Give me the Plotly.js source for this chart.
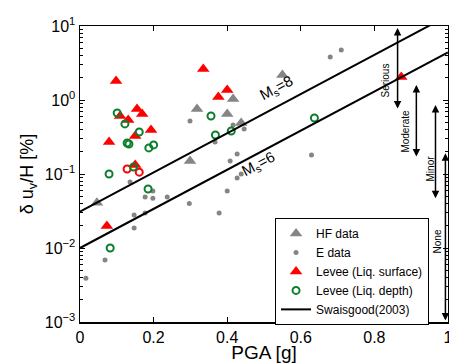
<!DOCTYPE html>
<html>
<head>
<meta charset="utf-8">
<script src="https://cdn.plot.ly/plotly-3.0.1.min.js"></script>
<style>html,body{margin:0;padding:0;background:#fff;}#chart{width:449px;height:363px;}</style>
</head>
<body>
<div id="chart"></div>
<script>
// HF data (gray triangles)
var hfX = [0.046, 0.299, 0.318, 0.400, 0.416, 0.438, 0.550];
var hfY = [0.041, 0.150, 0.755, 0.647, 1.03, 0.489, 2.18];
// E data (gray dots)
var eX = [0.016, 0.068, 0.147, 0.147, 0.136, 0.177, 0.177, 0.198, 0.198, 0.237, 0.297, 0.378, 0.400, 0.427, 0.438, 0.408, 0.427, 0.629, 0.299, 0.367, 0.416, 0.446, 0.680, 0.710];
var eY = [0.0039, 0.0069, 0.0186, 0.028, 0.078, 0.049, 0.0297, 0.059, 0.047, 0.049, 0.040, 0.0297, 0.059, 0.088, 0.10, 0.15, 0.186, 0.181, 0.52, 0.27, 0.459, 0.406, 3.81, 4.74];
// Levee (Liq. surface) red triangles
var levSX = [0.098, 0.155, 0.169, 0.109, 0.131, 0.193, 0.150, 0.079, 0.150, 0.073, 0.335, 0.400, 0.376, 0.873];
var levSY = [1.81, 0.755, 0.647, 0.608, 0.537, 0.393, 0.327, 0.270, 0.132, 0.0198, 2.62, 1.36, 1.10, 2.05];
// red open circles
var levRcX = [0.128, 0.161];
var levRcY = [0.117, 0.106];
// Levee (Liq. depth) green circles
var levDX = [0.101, 0.122, 0.128, 0.133, 0.161, 0.187, 0.200, 0.079, 0.145, 0.356, 0.368, 0.411, 0.637, 0.185, 0.082];
var levDY = [0.667, 0.475, 0.262, 0.254, 0.370, 0.225, 0.247, 0.100, 0.124, 0.608, 0.336, 0.381, 0.571, 0.0627, 0.0100];
// Swaisgood (2003) lines
var lineX = [0, 1];
var ms8Y = [0.031, 13.8];
var ms6Y = [0.010, 4.4];
// damage bands (arrows)
var bandNames = ['Serious', 'Moderate', 'Minor', 'None'];
var bandX = [0.863, 0.914, 0.966, 0.993];
var bandTop = [9.4, 1.6, 0.855, 0.19];
var bandBottom = [0.73, 0.164, 0.045, 0.001];
var bandLabelX = [0.830, 0.882, 0.952, 0.971];
var bandLabelY = [1.86, 0.381, 0.120, 0.0124];
// tick labels
var xTickVals = [0, 0.2, 0.4, 0.6, 0.8, 1];
var xTickText = ['0', '0.2', '0.4', '0.6', '0.8', '1'];
var yTickVals = [0.001, 0.01, 0.1, 1, 10];
var yTickText = ['10<sup>\u22123</sup>', '10<sup>\u22122</sup>', '10<sup>\u22121</sup>', '10<sup>0</sup>', '10<sup>1</sup>'];

var FONT = 'Liberation Sans, Arial, Helvetica, sans-serif';
var GRAY = '#858585';

var minorVals = [];
for (var e = -3; e < 1; e++) { for (var m = 2; m <= 9; m++) { minorVals.push(m * Math.pow(10, e)); } }

var traces = [
  {x: hfX, y: hfY, type: 'scatter', mode: 'markers', name: 'HF data',
   marker: {symbol: 'triangle-up', size: 11, color: GRAY}},
  {x: eX, y: eY, type: 'scatter', mode: 'markers', name: 'E data',
   marker: {symbol: 'circle', size: 5, color: GRAY}},
  {x: levSX, y: levSY, type: 'scatter', mode: 'markers', name: 'Levee (Liq. surface)',
   marker: {symbol: 'triangle-up', size: 11, color: '#ff0000'}},
  {x: levRcX, y: levRcY, type: 'scatter', mode: 'markers', showlegend: false,
   marker: {symbol: 'circle-open', size: 7, color: '#ff0000', line: {width: 2, color: '#ff0000'}}},
  {x: levDX, y: levDY, type: 'scatter', mode: 'markers', name: 'Levee (Liq. depth)',
   marker: {symbol: 'circle-open', size: 7, color: '#0a7f2e', line: {width: 2, color: '#0a7f2e'}}},
  {x: lineX, y: ms8Y, type: 'scatter', mode: 'lines', name: 'Swaisgood(2003)',
   line: {color: '#000', width: 2}},
  {x: lineX, y: ms6Y, type: 'scatter', mode: 'lines', showlegend: false,
   line: {color: '#000', width: 2}}
];

var ann = [
  {x: 0.533, y: Math.log10(1.45), xref: 'x', yref: 'y', text: 'M<sub>s</sub>=8', showarrow: false,
   textangle: -28, font: {family: FONT, size: 15, color: '#000'}},
  {x: 0.484, y: Math.log10(0.136), xref: 'x', yref: 'y', text: 'M<sub>s</sub>=6', showarrow: false,
   textangle: -28, font: {family: FONT, size: 15, color: '#000'}}
];
for (var i = 0; i < bandNames.length; i++) {
  ann.push({x: bandX[i], y: Math.log10(bandTop[i]), ax: bandX[i], ay: Math.log10(bandBottom[i]),
    xref: 'x', yref: 'y', axref: 'x', ayref: 'y', text: '', showarrow: true,
    arrowside: 'end+start', arrowhead: 2, arrowsize: 1, arrowwidth: 1.5, arrowcolor: '#000'});
  ann.push({x: bandLabelX[i], y: Math.log10(bandLabelY[i]), xref: 'x', yref: 'y', text: bandNames[i],
    showarrow: false, textangle: -90, font: {family: FONT, size: 10, color: '#000'}});
}

var layout = {
  width: 449, height: 363,
  margin: {l: 80, r: 1, t: 26, b: 41, pad: 0},
  paper_bgcolor: '#fff', plot_bgcolor: '#fff',
  font: {family: FONT, color: '#000'},
  showlegend: true,
  legend: {x: 0.53, y: 0.171, xanchor: 'left', yanchor: 'middle', bgcolor: '#fff',
    bordercolor: '#000', borderwidth: 1, itemwidth: 30, font: {family: FONT, size: 12, color: '#000'}},
  xaxis: {range: [0, 1], tickvals: xTickVals, ticktext: xTickText, ticks: 'inside', ticklen: 5, tickcolor: '#000',
    showline: true, linecolor: '#000', linewidth: 1.5, mirror: 'ticks', showgrid: false, zeroline: false,
    ticklabeloverflow: 'allow',
    tickfont: {family: FONT, size: 16, color: '#000'},
    title: {text: 'PGA [g]', font: {family: FONT, size: 19, color: '#000'}, standoff: 2}},
  yaxis: {type: 'log', range: [-3, 1], tickvals: yTickVals, ticktext: yTickText, ticks: 'inside', ticklen: 5,
    tickcolor: '#000', showline: true, linecolor: '#000', linewidth: 1.5, mirror: 'ticks', showgrid: false,
    zeroline: false, tickfont: {family: FONT, size: 16, color: '#000'},
    minor: {tickvals: minorVals, ticks: 'inside', ticklen: 3, tickcolor: '#000', showgrid: false},
    title: {text: '\u03b4 u<sub>v</sub>/H [%]', font: {family: FONT, size: 18, color: '#000'}, standoff: 6}},
  annotations: ann
};

Plotly.newPlot('chart', traces, layout, {displayModeBar: false, staticPlot: true});
</script>
</body>
</html>
